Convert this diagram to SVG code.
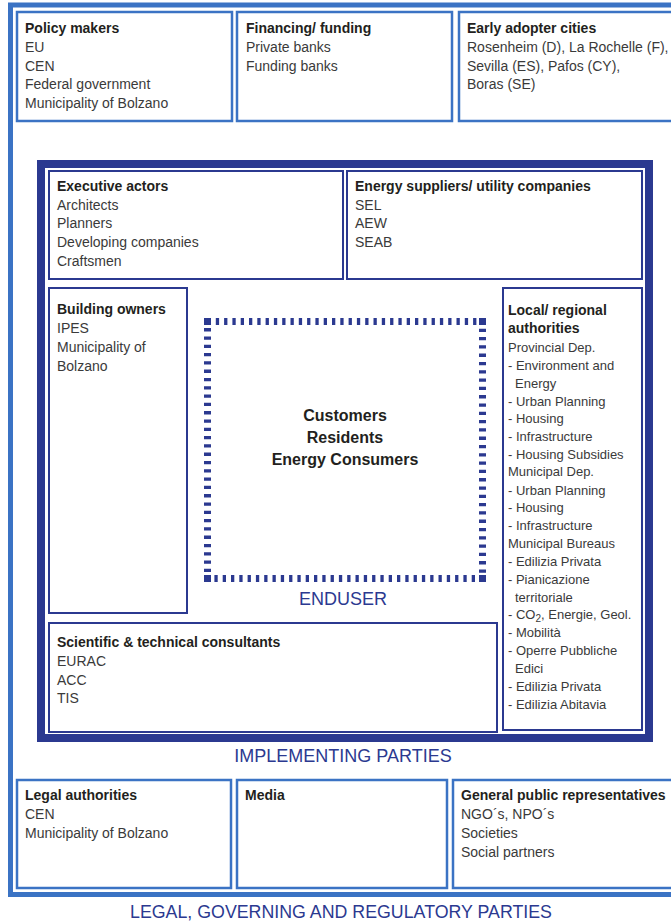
<svg xmlns="http://www.w3.org/2000/svg" width="671" height="923" viewBox="0 0 671 923">
<style>
.lb{fill:none;stroke:#3b73c4;stroke-width:2.5}
.nb{fill:none;stroke:#2b3990;stroke-width:2}
.t{font-family:"Liberation Sans",Arial,sans-serif;font-size:14px;font-weight:bold;fill:#231f20}
.i{font-family:"Liberation Sans",Arial,sans-serif;font-size:14px;fill:#3a3a3a}
.s{font-family:"Liberation Sans",Arial,sans-serif;font-size:13px;fill:#3a3a3a}
.c{font-family:"Liberation Sans",Arial,sans-serif;font-size:16px;font-weight:bold;fill:#231f20;text-anchor:middle}
.g{font-family:"Liberation Sans",Arial,sans-serif;fill:#2b3990;text-anchor:middle}
</style>
<rect width="671" height="923" fill="#ffffff"/>
<g id="legal-frame">
<rect x="10.5" y="5" width="700" height="889.5" fill="none" stroke="#3b73c4" stroke-width="5"/>
<text class="g" x="341" y="918" font-size="17.8">LEGAL, GOVERNING AND REGULATORY PARTIES</text>
</g>
<g id="policy-makers">
<rect class="lb" x="17" y="12" width="215" height="109"/>
<text class="t" x="25" y="33">Policy makers</text>
<text class="i" x="25" y="52">EU</text>
<text class="i" x="25" y="70.5">CEN</text>
<text class="i" x="25" y="89">Federal government</text>
<text class="i" x="25" y="108">Municipality of Bolzano</text>
</g>
<g id="financing">
<rect class="lb" x="237" y="12" width="215" height="109"/>
<text class="t" x="246" y="33">Financing/ funding</text>
<text class="i" x="246" y="52">Private banks</text>
<text class="i" x="246" y="70.5">Funding banks</text>
</g>
<g id="early-adopters">
<rect class="lb" x="459" y="12" width="230" height="109"/>
<text class="t" x="467" y="33">Early adopter cities</text>
<text class="i" x="467" y="52">Rosenheim (D), La Rochelle (F),</text>
<text class="i" x="467" y="70.5">Sevilla (ES), Pafos (CY),</text>
<text class="i" x="467" y="89">Boras (SE)</text>
</g>
<g id="implementing-frame">
<rect x="41" y="164" width="608" height="574" fill="none" stroke="#2b3990" stroke-width="8"/>
<text class="g" x="343" y="762" font-size="18">IMPLEMENTING PARTIES</text>
</g>
<g id="executive-actors">
<rect class="nb" x="49" y="171" width="294" height="108"/>
<text class="t" x="57" y="191">Executive actors</text>
<text class="i" x="57" y="209.5">Architects</text>
<text class="i" x="57" y="228">Planners</text>
<text class="i" x="57" y="247">Developing companies</text>
<text class="i" x="57" y="266">Craftsmen</text>
</g>
<g id="energy-suppliers">
<rect class="nb" x="347" y="171" width="295" height="108"/>
<text class="t" x="355" y="191">Energy suppliers/ utility companies</text>
<text class="i" x="355" y="209.5">SEL</text>
<text class="i" x="355" y="228">AEW</text>
<text class="i" x="355" y="247">SEAB</text>
</g>
<g id="building-owners">
<rect class="nb" x="49" y="288" width="138" height="325"/>
<text class="t" x="57" y="314">Building owners</text>
<text class="i" x="57" y="333">IPES</text>
<text class="i" x="57" y="352">Municipality of</text>
<text class="i" x="57" y="370.5">Bolzano</text>
</g>
<g id="local-authorities">
<rect class="nb" x="503" y="288" width="139" height="442"/>
<text class="t" x="508" y="315">Local/ regional</text>
<text class="t" x="508" y="333">authorities</text>
<text class="s" x="508" y="352">Provincial Dep.</text>
<text class="s" x="508" y="370">- Environment and</text>
<text class="s" x="515" y="388">Energy</text>
<text class="s" x="508" y="405.5">- Urban Planning</text>
<text class="s" x="508" y="423">- Housing</text>
<text class="s" x="508" y="440.5">- Infrastructure</text>
<text class="s" x="508" y="458.5">- Housing Subsidies</text>
<text class="s" x="508" y="476">Municipal Dep.</text>
<text class="s" x="508" y="494.5">- Urban Planning</text>
<text class="s" x="508" y="512">- Housing</text>
<text class="s" x="508" y="530">- Infrastructure</text>
<text class="s" x="508" y="548">Municipal Bureaus</text>
<text class="s" x="508" y="566">- Edilizia Privata</text>
<text class="s" x="508" y="584">- Pianicazione</text>
<text class="s" x="515" y="602">territoriale</text>
<text class="s" x="508" y="619">- CO<tspan font-size="10" dy="3">2</tspan><tspan dy="-3">, Energie, Geol.</tspan></text>
<text class="s" x="508" y="637">- Mobilità</text>
<text class="s" x="508" y="655">- Operre Pubbliche</text>
<text class="s" x="515" y="673">Edici</text>
<text class="s" x="508" y="691">- Edilizia Privata</text>
<text class="s" x="508" y="708.5">- Edilizia Abitavia</text>
</g>
<g id="enduser">
<rect x="207.5" y="321.5" width="275" height="257" fill="none" stroke="#2b3990" stroke-width="7" stroke-dasharray="3.3 5"/>
<rect x="204" y="318" width="7" height="7" fill="#2b3990"/>
<rect x="479" y="318" width="7" height="7" fill="#2b3990"/>
<rect x="204" y="575" width="7" height="7" fill="#2b3990"/>
<rect x="479" y="575" width="7" height="7" fill="#2b3990"/>
<text class="c" x="345" y="421">Customers</text>
<text class="c" x="345" y="443">Residents</text>
<text class="c" x="345" y="465">Energy Consumers</text>
<text class="g" x="343" y="605" font-size="18">ENDUSER</text>
</g>
<g id="scientific-consultants">
<rect class="nb" x="49" y="623" width="448" height="109"/>
<text class="t" x="57" y="647">Scientific &amp; technical consultants</text>
<text class="i" x="57" y="666">EURAC</text>
<text class="i" x="57" y="684.5">ACC</text>
<text class="i" x="57" y="703">TIS</text>
</g>
<g id="legal-authorities">
<rect class="lb" x="17" y="780" width="214" height="108"/>
<text class="t" x="25" y="800">Legal authorities</text>
<text class="i" x="25" y="819">CEN</text>
<text class="i" x="25" y="838">Municipality of Bolzano</text>
</g>
<g id="media">
<rect class="lb" x="237" y="780" width="210" height="108"/>
<text class="t" x="245" y="800">Media</text>
</g>
<g id="general-public">
<rect class="lb" x="453" y="780" width="240" height="108"/>
<text class="t" x="461" y="800">General public representatives</text>
<text class="i" x="461" y="819">NGO´s, NPO´s</text>
<text class="i" x="461" y="838">Societies</text>
<text class="i" x="461" y="856.5">Social partners</text>
</g>
<g id="connectors"/>
</svg>
